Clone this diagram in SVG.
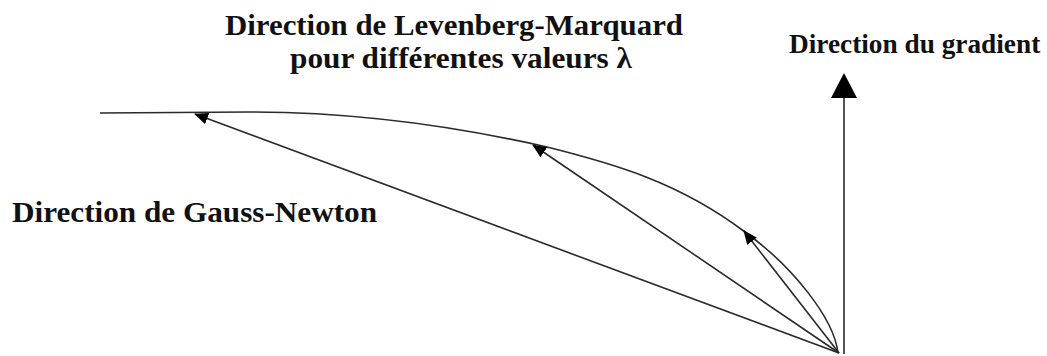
<svg xmlns="http://www.w3.org/2000/svg" width="1047" height="356" viewBox="0 0 1047 356">
  <style>
    .lbl { font-family: "Liberation Serif", "Times New Roman", serif; font-weight: bold; font-size: 30px; fill: #111; }
    .ln { fill: none; stroke: #2a2a2a; stroke-width: 1.6; }
  </style>
  <defs>
    <marker id="ah" viewBox="0 0 14 12" refX="13" refY="6" markerWidth="14" markerHeight="12" markerUnits="userSpaceOnUse" orient="auto">
      <path d="M0,0 L14,6 L0,12 z" fill="#000"/>
    </marker>
  </defs>
  <rect width="1047" height="356" fill="#fff"/>

  <g id="connectors">
    <path id="curve" class="ln" d="M100,113 L250,112 C350,112 450,125 547,147 C613,163.5 679,182 745,232 C792,266 834,318 838,353"/>
    <line id="gauss-newton" class="ln" x1="839" y1="353" x2="195" y2="114" marker-end="url(#ah)"/>
    <line id="lm-1" class="ln" x1="839" y1="353" x2="533" y2="145" marker-end="url(#ah)"/>
    <line id="lm-2" class="ln" x1="839" y1="353" x2="744" y2="231" marker-end="url(#ah)"/>
    <g id="gradient-arrow">
      <line class="ln" x1="844" y1="354" x2="844" y2="96" stroke-width="2"/>
      <polygon points="844,73 857,98 831,98" fill="#000"/>
    </g>
  </g>

  <g id="label-lm">
    <text class="lbl" x="225" y="35" textLength="458" lengthAdjust="spacingAndGlyphs">Direction de Levenberg-Marquard</text>
    <text class="lbl" x="290" y="68" textLength="342" lengthAdjust="spacingAndGlyphs">pour différentes valeurs λ</text>
  </g>
  <g id="label-gradient">
    <text class="lbl" x="789" y="53" style="font-size:27.3px">Direction du gradient</text>
  </g>
  <g id="label-gauss-newton">
    <text class="lbl" x="12" y="222" textLength="365" lengthAdjust="spacingAndGlyphs">Direction de Gauss-Newton</text>
  </g>
</svg>
